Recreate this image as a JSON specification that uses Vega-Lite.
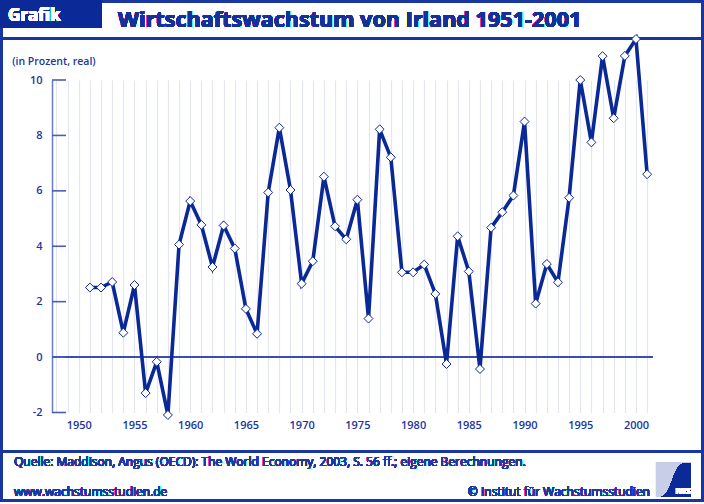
{
  "$schema": "https://vega.github.io/schema/vega-lite/v6.json",
  "autosize": {"type": "none"},
  "width": 600.7,
  "height": 332.5,
  "padding": {"left": 52, "top": 80, "right": 51.3, "bottom": 91.5},
  "background": "white",
  "config": {
    "view": {"stroke": null},
    "font": "Open Sans",
    "text": {"font": "Open Sans"}
  },
  "data": {"values": [
    {"year": 1951, "growth": 2.51}, {"year": 1952, "growth": 2.51}, {"year": 1953, "growth": 2.71},
    {"year": 1954, "growth": 0.88}, {"year": 1955, "growth": 2.60}, {"year": 1956, "growth": -1.30},
    {"year": 1957, "growth": -0.17}, {"year": 1958, "growth": -2.09}, {"year": 1959, "growth": 4.06},
    {"year": 1960, "growth": 5.63}, {"year": 1961, "growth": 4.77}, {"year": 1962, "growth": 3.25},
    {"year": 1963, "growth": 4.75}, {"year": 1964, "growth": 3.92}, {"year": 1965, "growth": 1.74},
    {"year": 1966, "growth": 0.84}, {"year": 1967, "growth": 5.94}, {"year": 1968, "growth": 8.28},
    {"year": 1969, "growth": 6.03}, {"year": 1970, "growth": 2.65}, {"year": 1971, "growth": 3.46},
    {"year": 1972, "growth": 6.51}, {"year": 1973, "growth": 4.72}, {"year": 1974, "growth": 4.25},
    {"year": 1975, "growth": 5.68}, {"year": 1976, "growth": 1.39}, {"year": 1977, "growth": 8.22},
    {"year": 1978, "growth": 7.21}, {"year": 1979, "growth": 3.06}, {"year": 1980, "growth": 3.06},
    {"year": 1981, "growth": 3.34}, {"year": 1982, "growth": 2.28}, {"year": 1983, "growth": -0.25},
    {"year": 1984, "growth": 4.36}, {"year": 1985, "growth": 3.09}, {"year": 1986, "growth": -0.43},
    {"year": 1987, "growth": 4.67}, {"year": 1988, "growth": 5.23}, {"year": 1989, "growth": 5.83},
    {"year": 1990, "growth": 8.50}, {"year": 1991, "growth": 1.93}, {"year": 1992, "growth": 3.36},
    {"year": 1993, "growth": 2.70}, {"year": 1994, "growth": 5.75}, {"year": 1995, "growth": 10.00},
    {"year": 1996, "growth": 7.75}, {"year": 1997, "growth": 10.86}, {"year": 1998, "growth": 8.62},
    {"year": 1999, "growth": 10.87}, {"year": 2000, "growth": 11.48}, {"year": 2001, "growth": 6.60}
  ]},
  "resolve": {"scale": {"x": "independent", "y": "independent"}, "axis": {"x": "independent", "y": "independent"}},
  "layer": [
    {
      "layer": [
        {
          "mark": {"type": "rect", "fill": null, "stroke": "#1a36a0", "strokeWidth": 2.5, "clip": false},
          "encoding": {
            "x": {"datum": 1943.069, "type": "quantitative", "axis": null, "scale": {"domain": [1947.6, 2001.5], "nice": false, "zero": false}},
            "x2": {"datum": 2005.967},
            "y": {"datum": 12.833, "type": "quantitative", "axis": null, "scale": {"domain": [-2, 10], "nice": false, "zero": false}},
            "y2": {"datum": -5.176}
          }
        },
        {
          "mark": {"type": "rect", "fill": "#0b2a98", "clip": false},
          "encoding": {
            "x": {"datum": 1942.934, "type": "quantitative", "axis": null},
            "x2": {"datum": 1952.086},
            "y": {"datum": 12.887, "type": "quantitative", "axis": null},
            "y2": {"datum": 11.877}
          }
        },
        {
          "mark": {"type": "rule", "stroke": "#1a36a0", "strokeWidth": 1.6, "clip": false},
          "encoding": {
            "x": {"datum": 1943.069, "type": "quantitative", "axis": null},
            "x2": {"datum": 2005.967},
            "y": {"datum": 11.498, "type": "quantitative", "axis": null}
          }
        },
        {
          "mark": {"type": "rule", "stroke": "#1a36a0", "strokeWidth": 1.8, "clip": false},
          "encoding": {
            "x": {"datum": 1943.069, "type": "quantitative", "axis": null},
            "x2": {"datum": 2005.967},
            "y": {"datum": -3.415, "type": "quantitative", "axis": null}
          }
        },
        {
          "mark": {"type": "rule", "stroke": "#3a4fb0", "strokeWidth": 1.5},
          "encoding": {
            "y": {"datum": 0, "type": "quantitative", "axis": null}
          }
        },
        {
          "mark": {"type": "text", "text": "Grafik", "color": "white", "fontWeight": "bold", "fontSize": 17, "align": "left", "baseline": "alphabetic", "clip": false},
          "encoding": {
            "x": {"datum": 1943.652, "type": "quantitative", "axis": null},
            "y": {"datum": 12.14, "type": "quantitative", "axis": null}
          }
        },
        {
          "mark": {"type": "text", "text": "Wirtschaftswachstum von Irland 1951-2001", "color": "#14309a", "fontWeight": "bold", "fontSize": 21.6, "align": "left", "baseline": "alphabetic", "clip": false},
          "encoding": {
            "x": {"datum": 1953.522, "type": "quantitative", "axis": null},
            "y": {"datum": 11.924, "type": "quantitative", "axis": null}
          }
        },
        {
          "mark": {"type": "text", "text": "Quelle: Maddison, Angus (OECD): The World Economy, 2003, S. 56 ff.; eigene Berechnungen.", "color": "#1e3aa0", "fontSize": 12, "align": "left", "baseline": "middle", "clip": false},
          "encoding": {
            "x": {"datum": 1944.19, "type": "quantitative", "axis": null},
            "y": {"datum": -3.797, "type": "quantitative", "axis": null}
          }
        },
        {
          "mark": {"type": "text", "text": "www.wachstumsstudien.de", "color": "#1e3aa0", "fontSize": 12, "align": "left", "baseline": "middle", "clip": false},
          "encoding": {
            "x": {"datum": 1944.19, "type": "quantitative", "axis": null},
            "y": {"datum": -4.88, "type": "quantitative", "axis": null}
          }
        },
        {
          "mark": {"type": "text", "text": "© Institut für Wachstumsstudien", "color": "#1e3aa0", "fontSize": 12, "align": "right", "baseline": "middle", "clip": false},
          "encoding": {
            "x": {"datum": 2001.256, "type": "quantitative", "axis": null},
            "y": {"datum": -4.88, "type": "quantitative", "axis": null}
          }
        },
        {
          "mark": {"type": "point", "shape": "square", "size": 1225, "filled": true, "fill": "#c8cde8", "strokeWidth": 0, "opacity": 1, "clip": false},
          "encoding": {
            "x": {"datum": 2003.365, "type": "quantitative", "axis": null},
            "y": {"datum": -4.418, "type": "quantitative", "axis": null}
          }
        },
        {
          "mark": {"type": "point", "shape": "M -0.75 1 C -0.1 1 -0.05 -0.9 0.6 -0.9 L 1 -0.9 L 1 1 Z", "size": 1225, "filled": true, "fill": "#0b2a98", "strokeWidth": 0, "opacity": 1, "clip": false},
          "encoding": {
            "x": {"datum": 2003.365, "type": "quantitative", "axis": null},
            "y": {"datum": -4.418, "type": "quantitative", "axis": null}
          }
        },
        {
          "mark": {"type": "text", "text": "IWS", "color": "white", "fontWeight": "bold", "fontSize": 8, "align": "center", "baseline": "middle", "clip": false},
          "encoding": {
            "x": {"datum": 2004.217, "type": "quantitative", "axis": null},
            "y": {"datum": -4.858, "type": "quantitative", "axis": null}
          }
        }
      ]
    },
    {
      "data": {"values": [
        {"tick": -2}, {"tick": 0}, {"tick": 2}, {"tick": 4}, {"tick": 6}, {"tick": 8}, {"tick": 10}
      ]},
      "mark": {"type": "rule", "stroke": "#4a5db8", "strokeWidth": 1.6, "clip": false},
      "encoding": {
        "x": {"datum": 1947.6, "type": "quantitative", "axis": null, "scale": {"domain": [1947.6, 2001.5], "nice": false, "zero": false}},
        "x2": {"datum": 1948.856},
        "y": {"field": "tick", "type": "quantitative", "axis": null, "scale": {"domain": [-2, 10], "nice": false, "zero": false}}
      }
    },
    {
      "encoding": {
        "x": {
          "field": "year", "type": "quantitative",
          "scale": {"domain": [1947.6, 2001.5], "nice": false, "zero": false},
          "axis": {
            "orient": "bottom",
            "title": null,
            "values": [1948,1949,1950,1951,1952,1953,1954,1955,1956,1957,1958,1959,1960,1961,1962,1963,1964,1965,1966,1967,1968,1969,1970,1971,1972,1973,1974,1975,1976,1977,1978,1979,1980,1981,1982,1983,1984,1985,1986,1987,1988,1989,1990,1991,1992,1993,1994,1995,1996,1997,1998,1999,2000,2001],
            "labelExpr": "datum.value % 5 === 0 ? '' + datum.value : ''",
            "domain": false,
            "ticks": false,
            "grid": true,
            "gridColor": "#e3e5f2",
            "gridWidth": 1.2,
            "labelColor": "#1a36a0",
            "labelFont": "Open Sans",
            "labelFontSize": 11,
            "labelFontWeight": 600,
            "labelPadding": 7,
            "labelOverlap": false
          }
        },
        "y": {
          "field": "growth", "type": "quantitative",
          "scale": {"domain": [-2, 10], "nice": false, "zero": false},
          "axis": {
            "orient": "left",
            "title": "(in Prozent, real)",
            "titleAngle": 0,
            "titleAlign": "left",
            "titleBaseline": "alphabetic",
            "titleX": -40.3,
            "titleY": -16,
            "titleColor": "#1a36a0",
            "titleFont": "Open Sans",
            "titleFontSize": 10.5,
            "titleFontWeight": 600,
            "values": [-2, 0, 2, 4, 6, 8, 10],
            "labelExpr": "'' + datum.value",
            "grid": false,
            "domain": true,
            "domainColor": "#6a7cc6",
            "domainWidth": 1.5,
            "ticks": false,
            "labelColor": "#1a36a0",
            "labelFont": "Open Sans",
            "labelFontSize": 11,
            "labelFontWeight": 600,
            "labelPadding": 10,
            "labelOverlap": false
          }
        }
      },
      "layer": [
        {"mark": {"type": "line", "stroke": "#0a2896", "strokeWidth": 3.6, "strokeJoin": "miter", "clip": false}},
        {"mark": {"type": "point", "shape": "diamond", "size": 80, "filled": true, "fill": "white", "stroke": "#0a2896", "strokeWidth": 1, "opacity": 1, "clip": false}}
      ]
    }
  ]
}
